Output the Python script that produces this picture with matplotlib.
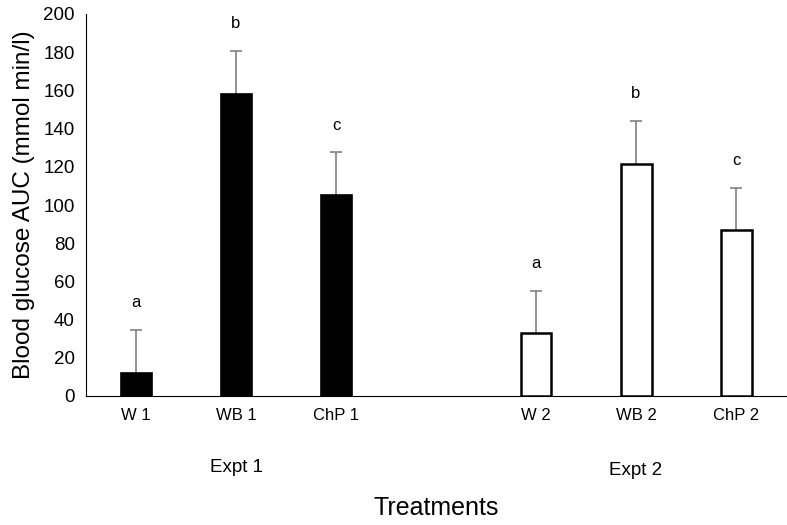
import matplotlib
matplotlib.use("Agg")
import matplotlib.pyplot as plt

plt.rcParams['font.family'] = ['Liberation Sans', 'DejaVu Sans']

# Data
labels = ["W 1", "WB 1", "ChP 1", "W 2", "WB 2", "ChP 2"]
positions = [0, 1, 2, 4, 5, 6]
means = [12, 158, 105, 33, 121.5, 87]
errors = [22.5, 22.5, 22.5, 22, 22.5, 22]
letters = ["a", "b", "c", "a", "b", "c"]
groups = ["Expt 1", "Expt 2"]
group_pos = [1, 5]

fig = plt.figure(figsize=(7.87, 5.25), dpi=100)
ax = fig.add_axes([86 / 787, 1 - 396 / 525, 700 / 787, 382 / 525])

# Expt 1: filled bars, Expt 2: hollow bars
ax.bar(positions[:3], means[:3], width=0.31, color="black", edgecolor="black",
       linewidth=1.2, zorder=3)
ax.bar(positions[3:], means[3:], width=0.31, color="white", edgecolor="black",
       linewidth=1.8, zorder=3)

# upper error bars only
eb = ax.errorbar(positions, means, yerr=[[0] * 6, errors], fmt="none",
                 ecolor="#808080", elinewidth=1.2, capsize=4, capthick=1.2, zorder=2)
eb[1][0].remove()  # drop the lower caps

# significance letters
for x, m, e, t in zip(positions, means, errors, letters):
    ax.text(x, m + e + 12, t, ha="center", va="baseline", fontsize=12)

ax.set_xlim(-0.5, 6.5)
ax.set_ylim(0, 200)
ax.set_yticks(range(0, 201, 20))
ax.set_xticks(positions)
ax.set_xticklabels(labels, fontsize=12)
ax.tick_params(axis="y", length=0, labelsize=13.5, pad=8)
ax.tick_params(axis="x", length=0, pad=9)
ax.spines["top"].set_visible(False)
ax.spines["right"].set_visible(False)
ax.set_ylabel("Blood glucose AUC (mmol min/l)", fontsize=17.5, labelpad=6)

# group labels below tick labels
ax.text(group_pos[0], -37.5, groups[0], ha="center", va="center", fontsize=13.5)
ax.text(group_pos[1], -39, groups[1], ha="center", va="center", fontsize=13.5)
ax.text(3, -58.5, "Treatments", ha="center", va="center", fontsize=18)

fig.savefig("out.png", dpi=100)
